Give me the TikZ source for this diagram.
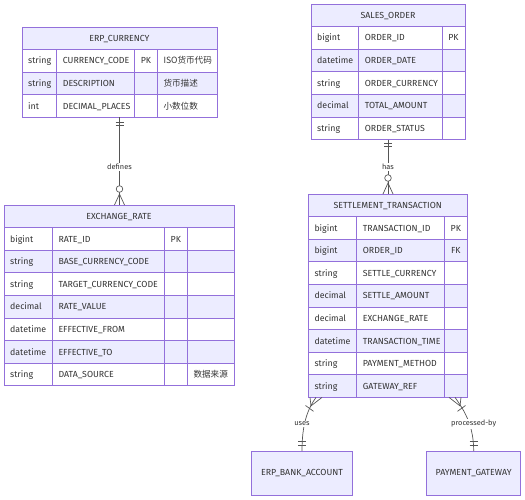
\documentclass[tikz,border=0pt]{standalone}
\usepackage{fontspec}
\setmainfont{Fira Sans}
\newfontfamily\cjk{Noto Sans CJK SC}
\usetikzlibrary{calc}
\definecolor{erline}{HTML}{9370DB}
\definecolor{erhead}{HTML}{ECECFF}
\definecolor{ertext}{HTML}{333333}
\definecolor{relc}{HTML}{555555}
\tikzset{
  ebox/.style={draw=erline, line width=0.9pt, inner sep=0pt, outer sep=0pt},
  ttl/.style={font=\fontsize{8.8}{10}\selectfont, text=ertext, inner sep=0pt, anchor=base},
  cell/.style={font=\fontsize{8.8}{10}\selectfont, text=ertext, anchor=base west, inner sep=0pt},
  keyc/.style={font=\fontsize{8.8}{10}\selectfont, text=ertext, anchor=base, inner sep=0pt},
  cjkc/.style={font=\cjk\fontsize{8.6}{10}\selectfont, text=ertext, anchor=base west, inner sep=0pt},
  gridln/.style={draw=erline, line width=0.9pt},
  rel/.style={draw=relc, line width=0.7pt},
  lbl/.style={font=\fontsize{7.4}{8}\selectfont, text=ertext, fill=white, inner sep=1pt},
}
\newcommand\erent[9]{%
 \pgfmathsetmacro\eH{22.6*(#5+1)}%
 \pgfmathsetmacro\eW{#3-#2}%
 \fill[erhead] (#2,#4) rectangle (#3,#4+22.6);
 \foreach \i in {1,...,#5}{\ifodd\i\relax\else\fill[erhead] (#2,{#4+22.6*\i}) rectangle (#3,{#4+22.6*(\i+1)});\fi}
 \foreach \i in {1,...,#5}{\draw[gridln] (#2,{#4+22.6*\i}) -- (#3,{#4+22.6*\i});}
 \foreach \c in {#7,#8,#9}{\draw[gridln] (\c,{#4+22.6}) -- (\c,{#4+\eH});}
 \node[ebox, minimum width=\eW pt, minimum height=\eH pt] (#1) at ({(#2+#3)/2},{#4+\eH/2}) {};
 \node[ttl] (#1-title) at ({(#2+#3)/2},{#4+11.3+3.1}) {#6};
}
\newcommand\erow[5]{%
 \pgfmathsetmacro\ry{\eT+22.6*#1+11.3+3.1}%
 \node[cell] (\eN-#1-t) at (\cA+6,\ry) {#2};
 \node[cell] (\eN-#1-n) at (\cB+6,\ry) {#3};
 \if\relax\detokenize{#4}\relax\else\node[keyc] (\eN-#1-k) at ({(\cC+\cD)/2},\ry) {#4};\fi
 \if\relax\detokenize{#5}\relax\else\node[cjkc] (\eN-#1-c) at (\cD+6,\ry) {#5};\fi
}
\begin{document}
\begin{tikzpicture}[x=1pt,y=-1pt]
\useasboundingbox (0,0) rectangle (525,500);

% ERP_CURRENCY
\def\eN{erp}\def\eT{27}\def\cA{22}\def\cB{56.7}\def\cC{134.7}\def\cD{157.3}
\erent{erp}{22}{217}{27}{3}{ERP\_CURRENCY}{56.7}{134.7}{157.3}
\erow{1}{string}{CURRENCY\_CODE}{PK}{ISO货币代码}
\erow{2}{string}{DESCRIPTION}{}{货币描述}
\erow{3}{int}{DECIMAL\_PLACES}{}{小数位数}

% EXCHANGE_RATE
\def\eN{ex}\def\eT{205}\def\cA{4}\def\cB{52.3}\def\cC{164.3}\def\cD{187.3}
\erent{ex}{4}{234}{205}{7}{EXCHANGE\_RATE}{52.3}{164.3}{187.3}
\erow{1}{bigint}{RATE\_ID}{PK}{}
\erow{2}{string}{BASE\_CURRENCY\_CODE}{}{}
\erow{3}{string}{TARGET\_CURRENCY\_CODE}{}{}
\erow{4}{decimal}{RATE\_VALUE}{}{}
\erow{5}{datetime}{EFFECTIVE\_FROM}{}{}
\erow{6}{datetime}{EFFECTIVE\_TO}{}{}
\erow{7}{string}{DATA\_SOURCE}{}{数据来源}

% SALES_ORDER
\def\eN{so}\def\eT{4}\def\cA{311}\def\cB{358.7}\def\cC{442}\def\cD{465}
\erent{so}{311}{465}{4}{5}{SALES\_ORDER}{358.7}{442}{465}
\erow{1}{bigint}{ORDER\_ID}{PK}{}
\erow{2}{datetime}{ORDER\_DATE}{}{}
\erow{3}{string}{ORDER\_CURRENCY}{}{}
\erow{4}{decimal}{TOTAL\_AMOUNT}{}{}
\erow{5}{string}{ORDER\_STATUS}{}{}

% SETTLEMENT_TRANSACTION
\def\eN{st}\def\eT{194}\def\cA{308.3}\def\cB{356.7}\def\cC{444.3}\def\cD{467.3}
\erent{st}{308.3}{467.3}{194}{8}{SETTLEMENT\_TRANSACTION}{356.7}{444.3}{467.3}
\erow{1}{bigint}{TRANSACTION\_ID}{PK}{}
\erow{2}{bigint}{ORDER\_ID}{FK}{}
\erow{3}{string}{SETTLE\_CURRENCY}{}{}
\erow{4}{decimal}{SETTLE\_AMOUNT}{}{}
\erow{5}{decimal}{EXCHANGE\_RATE}{}{}
\erow{6}{datetime}{TRANSACTION\_TIME}{}{}
\erow{7}{string}{PAYMENT\_METHOD}{}{}
\erow{8}{string}{GATEWAY\_REF}{}{}

% bottom entities
\node[ebox, fill=erhead, minimum width=100.6pt, minimum height=44.3pt,
      font=\fontsize{8.8}{10}\selectfont, text=ertext] (bank) at (302,473.2) {ERP\_BANK\_ACCOUNT};
\node[ebox, fill=erhead, minimum width=94pt, minimum height=44.3pt,
      font=\fontsize{8.8}{10}\selectfont, text=ertext] (pg) at (473.7,473.2) {PAYMENT\_GATEWAY};

% defines
\coordinate (dtop) at (erp.south);
\coordinate (dbot) at (erp.south |- ex.north);
\draw[rel] (dtop) -- (dbot);
\draw[rel] ($(dtop)+(-4,4.6)$) -- ++(8,0);
\draw[rel] ($(dtop)+(-4,8)$) -- ++(8,0);
\draw[rel, fill=white] ($(dbot)+(0,-16)$) circle (3.3pt);
\draw[rel] ($(dbot)+(-5,0)$) -- ($(dbot)+(0,-11)$) -- ($(dbot)+(5,0)$);
\node[lbl] (dlab) at (119.5,166.7) {defines};

% has
\coordinate (htop) at (so.south);
\coordinate (hbot) at (so.south |- st.north);
\draw[rel] (htop) -- (hbot);
\draw[rel] ($(htop)+(-4,3.7)$) -- ++(8,0);
\draw[rel] ($(htop)+(-4,7.1)$) -- ++(8,0);
\draw[rel, fill=white] ($(hbot)+(0,-16)$) circle (3.3pt);
\draw[rel] ($(hbot)+(-5,0)$) -- ($(hbot)+(0,-11)$) -- ($(hbot)+(5,0)$);
\node[lbl] (hlab) at (388,167) {has};

% uses
\coordinate (u0) at ($(st.south)+(-71.8,0)$);
\draw[rel] (u0) .. controls ($(u0)+(-9,12.6)$) and ($(bank.north)+(0,-26)$) .. (bank.north);
\draw[rel] ($(u0)+(-6,0)$) -- ($(u0)+(-5,8.5)$) -- ($(u0)+(6,0)$);
\draw[rel] ($(u0)+(-10.5,8.1)$) -- ($(u0)+(-2.5,13.9)$);
\draw[rel] ($(bank.north)+(-4,-9.3)$) -- ++(8,0);
\draw[rel] ($(bank.north)+(-4,-6)$) -- ++(8,0);
\node[lbl] (ulab) at (302,424) {uses};

% processed-by
\coordinate (p0) at ($(st.south)+(67.2,0)$);
\draw[rel] (p0) .. controls ($(p0)+(9,12.6)$) and ($(pg.north)+(0,-26)$) .. (pg.north);
\draw[rel] ($(p0)+(-6,0)$) -- ($(p0)+(5,8.5)$) -- ($(p0)+(6,0)$);
\draw[rel] ($(p0)+(2.5,13.9)$) -- ($(p0)+(10.5,8.1)$);
\draw[rel] ($(pg.north)+(-4,-9.3)$) -- ++(8,0);
\draw[rel] ($(pg.north)+(-4,-6)$) -- ++(8,0);
\node[lbl] (plab) at (473.7,424) {processed-by};
\end{tikzpicture}
\end{document}
